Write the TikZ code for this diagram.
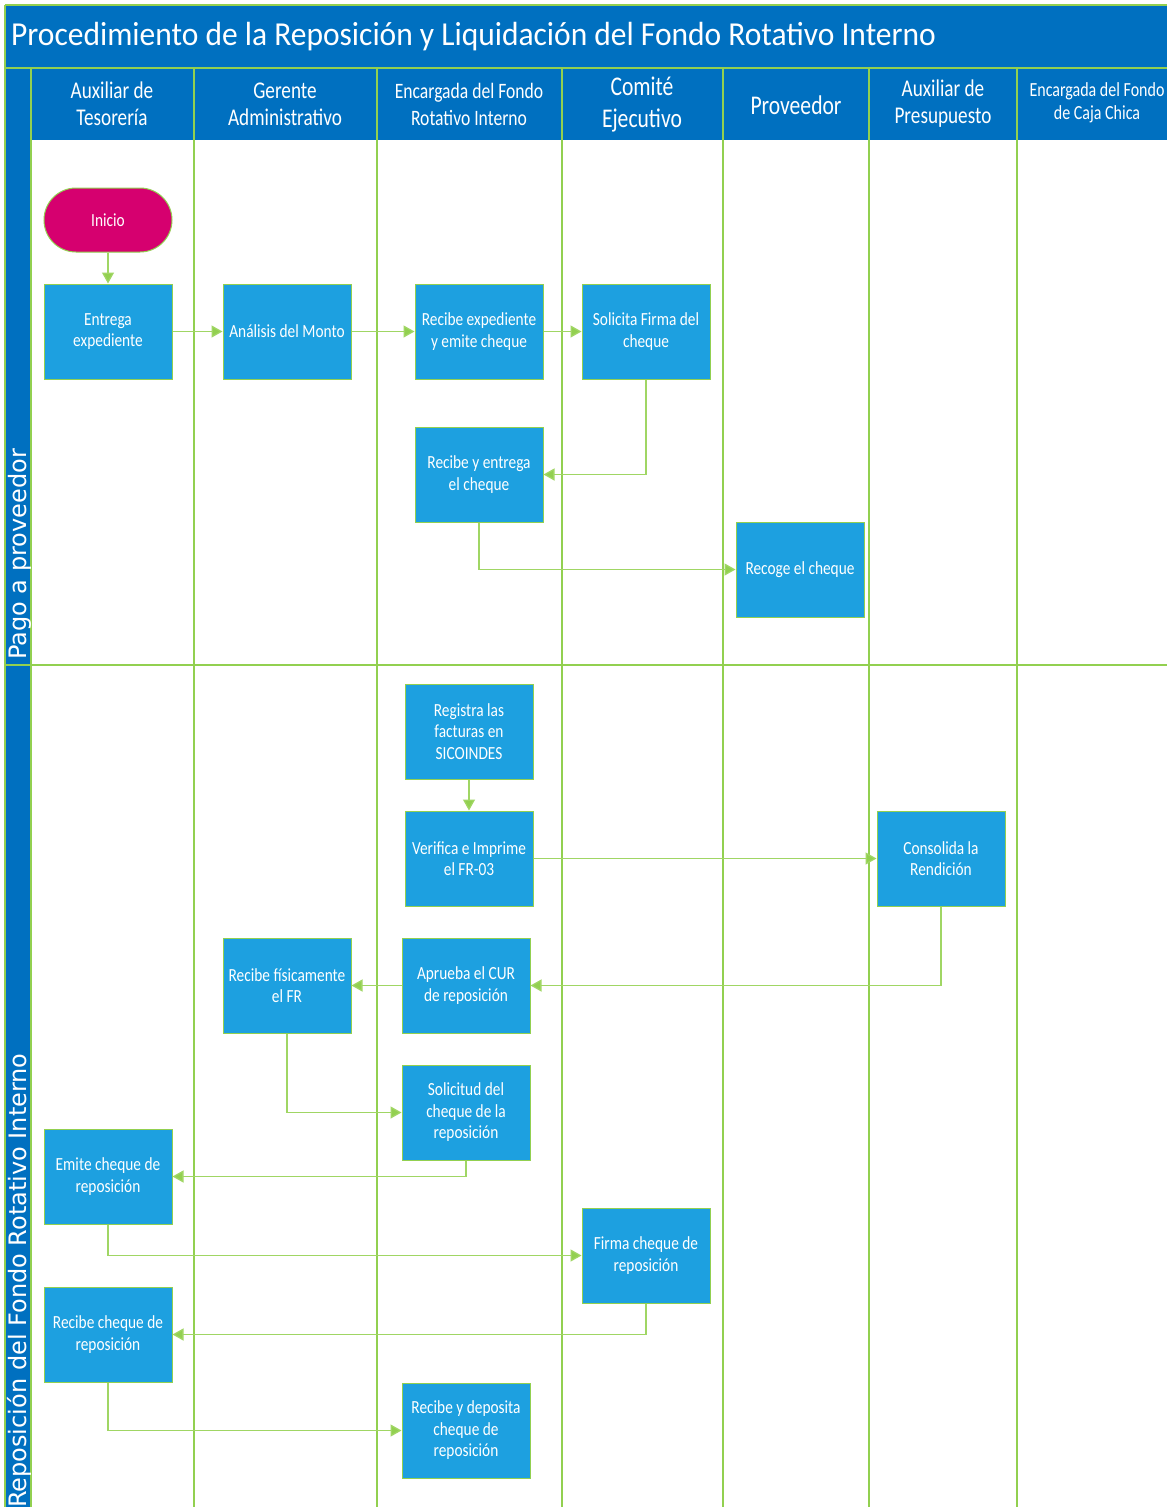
\documentclass[tikz,border=0pt]{standalone}
\usepackage{fontspec}
\setmainfont{Carlito}
\newfontfamily\cnd[FakeStretch=0.83]{Carlito}
\newfontfamily\hdr[FakeStretch=0.8]{Carlito}
\newfontfamily\ttl[FakeStretch=0.94]{Carlito}
\newfontfamily\sidefont{DejaVu Sans}
\usetikzlibrary{arrows.meta}
\definecolor{hblue}{RGB}{0,112,192}
\definecolor{bfill}{RGB}{29,160,224}
\definecolor{lgreen}{RGB}{146,208,80}
\definecolor{cgreen}{RGB}{160,214,100}
\definecolor{magen}{RGB}{214,0,111}
\tikzset{
  lane/.style={draw=lgreen, line width=1.2pt},
  procbox/.style={draw=lgreen, line width=1pt, fill=bfill, minimum width=128pt, minimum height=95pt,
    inner sep=2pt, align=center, text=white, font=\cnd\fontsize{18.5}{21.5}\selectfont},
  startbox/.style={draw=lgreen, line width=1pt, fill=magen, minimum width=128pt, minimum height=64pt,
    rounded corners=32pt, align=center, text=white, font=\cnd\fontsize{18.5}{21.5}\selectfont},
  conn/.style={draw=cgreen, line width=1.3pt, -{Triangle[length=11pt,width=12pt,fill=lgreen]}},
  hdrtext/.style={text=white, align=center, inner sep=0pt},
}
\begin{document}
\begin{tikzpicture}[x=1pt,y=-1pt]
\useasboundingbox (0,0) rectangle (1167,1507);
\fill[white] (0,0) rectangle (1167,1507);
% bars
\fill[hblue] (5,5) rectangle (1167,140);
\fill[hblue] (5,140) rectangle (31,1507);
% grid lines
\draw[lane] (5,5) -- (1167,5);
\draw[lane] (5,5) -- (5,1507);
\draw[lane] (5,68) -- (1167,68);
\foreach \xx in {31,194,377,562,723,869,1017} \draw[lane] (\xx,68) -- (\xx,1507);
\draw[lane] (5,665) -- (1167,665);
% title
\node[hdrtext, anchor=west, font=\ttl\fontsize{33.5}{38}\selectfont] (title) at (11,37) {Procedimiento de la Reposición y Liquidación del Fondo Rotativo Interno};
% headers
\node[hdrtext, font=\hdr\fontsize{24}{27}\selectfont] (h1) at (112,104) {Auxiliar de\\Tesorería};
\node[hdrtext, font=\hdr\fontsize{24}{27}\selectfont] (h2) at (285,104) {Gerente\\Administrativo};
\node[hdrtext, font=\hdr\fontsize{22}{27}\selectfont] (h3) at (469,104) {Encargada del Fondo\\Rotativo Interno};
\node[hdrtext, font=\hdr\fontsize{27}{32}\selectfont] (h4) at (642,105) {Comité\\Ejecutivo};
\node[hdrtext, font=\hdr\fontsize{27}{32}\selectfont] (h5) at (796,105) {Proveedor};
\node[hdrtext, font=\hdr\fontsize{24}{27}\selectfont] (h6) at (943,104) {Auxiliar de\\Presupuesto};
\node[hdrtext, font=\hdr\fontsize{20}{23}\selectfont] (h7) at (1097,103) {Encargada del Fondo\\de Caja Chica};
% side labels
\node[text=white, rotate=90, anchor=base west, inner sep=0pt, font=\sidefont\fontsize{24}{28}\selectfont] (lane1) at (27,660) {Pago a proveedor};
\node[text=white, rotate=90, anchor=base west, inner sep=0pt, font=\sidefont\fontsize{24}{28}\selectfont] (lane2) at (27,1508) {Reposición del Fondo Rotativo Interno};
% process nodes
\node[startbox] (inicio) at (108,220) {Inicio};
\node[procbox] (entrega) at (108,331.5) {Entrega\\expediente};
\node[procbox] (analisis) at (287,331.5) {Análisis del Monto};
\node[procbox] (recexp) at (479,331.5) {Recibe expediente\\y emite cheque};
\node[procbox] (solicita) at (646,331.5) {Solicita Firma del\\cheque};
\node[procbox] (recent) at (479,474.5) {Recibe y entrega\\el cheque};
\node[procbox] (recoge) at (800,569.5) {Recoge el cheque};
\node[procbox] (registra) at (469,731.5) {Registra las\\facturas en\\SICOINDES};
\node[procbox] (verifica) at (469,858.5) {Verifica e Imprime\\el FR-03};
\node[procbox] (consolida) at (941,858.5) {Consolida la\\Rendición};
\node[procbox] (recfis) at (287,985.5) {Recibe físicamente\\el FR};
\node[procbox] (aprueba) at (466,985.5) {Aprueba el CUR\\de reposición};
\node[procbox] (solicitud) at (466,1112.5) {Solicitud del\\cheque de la\\reposición};
\node[procbox] (emite) at (108,1176.5) {Emite cheque de\\reposición};
\node[procbox] (firma) at (646,1255.5) {Firma cheque de\\reposición};
\node[procbox] (recche) at (108,1334.5) {Recibe cheque de\\reposición};
\node[procbox] (deposita) at (466,1430.5) {Recibe y deposita\\cheque de\\reposición};
% connectors
\draw[conn] (inicio) -- (entrega);
\draw[conn] (entrega) -- (analisis);
\draw[conn] (analisis) -- (recexp);
\draw[conn] (recexp) -- (solicita);
\draw[conn] (solicita.south) |- (recent.east);
\draw[conn] (recent.south) |- (recoge.west);
\draw[conn] (registra) -- (verifica);
\draw[conn] (verifica) -- (consolida);
\draw[conn] (consolida.south) |- (aprueba.east);
\draw[conn] (aprueba) -- (recfis);
\draw[conn] (recfis.south) |- (solicitud.west);
\draw[conn] (solicitud.south) |- (emite.east);
\draw[conn] (emite.south) |- (firma.west);
\draw[conn] (firma.south) |- (recche.east);
\draw[conn] (recche.south) |- (deposita.west);
\end{tikzpicture}
\end{document}
